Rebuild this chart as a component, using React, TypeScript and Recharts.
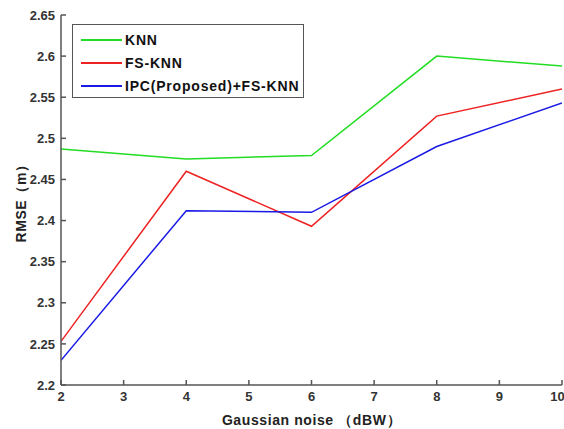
import { LineChart, Line, XAxis, YAxis } from "recharts";

const noise = [2, 4, 6, 8, 10];
const knn = [2.487, 2.475, 2.479, 2.6, 2.588];
const fsKnn = [2.253, 2.46, 2.393, 2.527, 2.56];
const ipcFsKnn = [2.23, 2.412, 2.41, 2.49, 2.543];

const xTicks = [2, 3, 4, 5, 6, 7, 8, 9, 10];
const yTicks = [2.2, 2.25, 2.3, 2.35, 2.4, 2.45, 2.5, 2.55, 2.6, 2.65];

const series = [
  { key: "knn", name: "KNN", color: "#22dd22" },
  { key: "fs", name: "FS-KNN", color: "#ee2222" },
  { key: "ipc", name: "IPC(Proposed)+FS-KNN", color: "#1a1ae6" },
];

const data = noise.map((n, i) => ({
  noise: n,
  knn: knn[i],
  fs: fsKnn[i],
  ipc: ipcFsKnn[i],
}));

const FONT = "'Liberation Sans', Arial, sans-serif";
const AXIS = "#555555";
const tickStyle = { fill: "#333333", fontSize: 13, fontWeight: 700, fontFamily: FONT };

// legend drawn as an overlay so it doesn't steal plot space
function LegendBox() {
  return (
    <div
      style={{
        position: "absolute",
        left: 72,
        top: 24,
        boxSizing: "border-box",
        width: 232,
        height: 74,
        border: `1.5px solid ${AXIS}`,
        background: "#fff",
        padding: "3px 0 0 8px",
        fontFamily: FONT,
        fontWeight: 700,
        fontSize: 14,
        letterSpacing: 0.8,
        color: "#111",
      }}
    >
      {series.map((s) => (
        <div key={s.key} style={{ display: "flex", alignItems: "center", height: 23 }}>
          <span style={{ width: 41, height: 2, background: s.color, marginRight: 3 }} />
          <span>{s.name}</span>
        </div>
      ))}
    </div>
  );
}

export default function App() {
  return (
    <div style={{ position: "absolute", left: 0, top: 0, width: 564, height: 429, background: "#fff" }}>
      <LineChart width={564} height={429} data={data} margin={{ top: 15, right: 2, left: 0, bottom: 0 }}>
        <XAxis
          dataKey="noise"
          type="number"
          domain={[2, 10]}
          ticks={xTicks}
          allowDataOverflow
          height={44}
          stroke={AXIS}
          strokeWidth={1.5}
          tickSize={-5}
          tickMargin={12}
          tick={tickStyle}
          label={{
            value: "Gaussian noise （dBW）",
            position: "insideBottom",
            offset: 4,
            style: { fill: "#222", fontSize: 14, fontWeight: 700, fontFamily: FONT, letterSpacing: 0.6 },
          }}
        />
        <XAxis
          xAxisId="top"
          dataKey="noise"
          type="number"
          orientation="top"
          domain={[2, 10]}
          ticks={xTicks}
          allowDataOverflow
          height={0}
          stroke={AXIS}
          strokeWidth={1.5}
          tickSize={-5}
          tick={false}
        />
        <YAxis
          type="number"
          domain={[2.2, 2.65]}
          ticks={yTicks}
          allowDataOverflow
          width={61}
          stroke={AXIS}
          strokeWidth={1.5}
          tickSize={-5}
          tickMargin={11}
          tick={tickStyle}
          tickFormatter={(v: number) => String(Number(v.toFixed(2)))}
          label={{
            value: "RMSE（m）",
            angle: -90,
            position: "insideLeft",
            offset: 21,
            style: { fill: "#222", fontSize: 14, fontWeight: 700, fontFamily: FONT, textAnchor: "middle", letterSpacing: 0.6 },
          }}
        />
        <YAxis
          yAxisId="right"
          orientation="right"
          type="number"
          domain={[2.2, 2.65]}
          ticks={yTicks}
          allowDataOverflow
          width={0}
          stroke={AXIS}
          strokeWidth={1.5}
          tickSize={-5}
          tick={false}
        />
        {series.map((s) => (
          <Line
            key={s.key}
            dataKey={s.key}
            name={s.name}
            stroke={s.color}
            strokeWidth={1.5}
            dot={false}
            isAnimationActive={false}
          />
        ))}
      </LineChart>
      <LegendBox />
    </div>
  );
}
